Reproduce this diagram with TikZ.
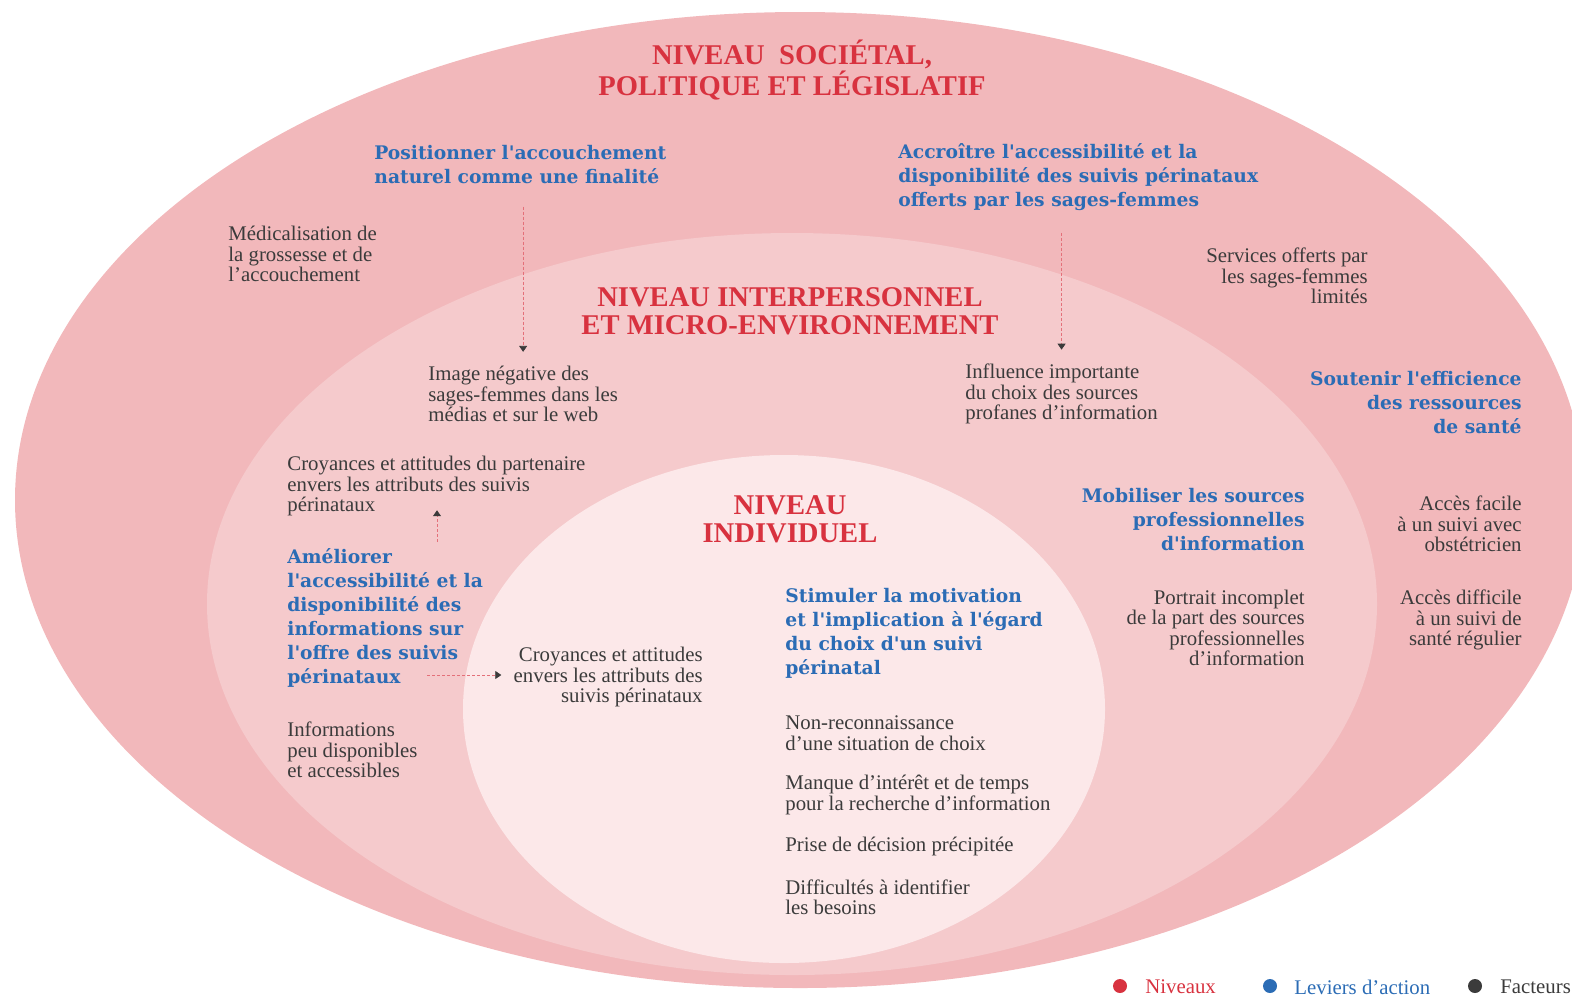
\documentclass[tikz,border=0pt]{standalone}
\usepackage{fontspec}
\setmainfont{Liberation Serif}
\newfontfamily\leverfont{DejaVu Serif}
\usepackage{xcolor}
\usepackage{tikz}
\usetikzlibrary{arrows.meta,calc}

\definecolor{socbg}{HTML}{F2B8BB}
\definecolor{interbg}{HTML}{F5CACC}
\definecolor{indbg}{HTML}{FCE8E9}
\definecolor{nivred}{HTML}{D8323F}
\definecolor{levblue}{HTML}{2B6CB5}
\definecolor{factgray}{HTML}{3B3B3B}

\tikzset{
    niveau/.style={text=nivred,font=\fontsize{14.3}{14}\selectfont\bfseries,align=center,inner sep=0},
    levier/.style={text=levblue,font=\leverfont\fontsize{9.35}{12}\selectfont\bfseries,inner sep=0},
    facteur/.style={text=factgray,font=\fontsize{10.4}{10.2}\selectfont,inner sep=0},
    lien/.style={draw=nivred!70,dash pattern=on 1.5pt off 1pt,line width=.4pt,
        -{Triangle[color=factgray,length=3pt,width=4pt]}}
}

\begin{document}
\begin{tikzpicture}[x=.5pt,y=-.5pt]
        \useasboundingbox (0,0) rectangle (1572,998);
        % les trois niveaux
        \fill[socbg] (800,500) ellipse [x radius=785,y radius=488];
        \fill[interbg] (792,604) ellipse [x radius=585,y radius=371];
        \fill[indbg] (784,709) ellipse [x radius=321,y radius=254];

        \node[niveau] (S) at (792,70) {NIVEAU\ \ SOCIÉTAL,\\POLITIQUE ET LÉGISLATIF};
        \node[niveau] (I) at (790,311) {NIVEAU INTERPERSONNEL\\ET MICRO-ENVIRONNEMENT};
        \node[niveau] (N) at (790,519) {NIVEAU\\INDIVIDUEL};

        % leviers d'action
        \node[levier,anchor=west,align=left] (P) at (374,165)
        {Positionner l'accouchement\\naturel comme une finalité};
        \node[levier,anchor=west,align=left] (A) at (898,177)
        {Accroître l'accessibilité et la\\disponibilité des suivis périnataux\\offerts par les sages-femmes};
        \node[levier,anchor=east,align=right] (E) at (1522,403)
        {Soutenir l'efficience\\des ressources\\de santé};
        \node[levier,anchor=east,align=right] (M) at (1305,520)
        {Mobiliser les sources\\professionnelles\\d'information};
        \node[levier,anchor=west,align=left] (Am) at (287,618)
        {Améliorer\\l'accessibilité et la\\disponibilité des\\informations sur\\l'offre des suivis\\périnataux};
        \node[levier,anchor=west,align=left] (St) at (785,633)
        {Stimuler la motivation\\et l'implication à l'égard\\du choix d'un suivi\\périnatal};

        % facteurs
        \node[facteur,anchor=west,align=left] (Med) at (228,254)
        {Médicalisation de\\la grossesse et de\\l'accouchement};
        \node[facteur,anchor=east,align=right] (Ser) at (1368,276)
        {Services offerts par\\les sages-femmes\\limités};
        \node[facteur,anchor=west,align=left] (Img) at (428,394)
        {Image négative des\\sages-femmes dans les\\médias et sur le web};
        \node[facteur,anchor=west,align=left] (Inf) at (965,394)
        {Influence importante\\du choix des sources\\profanes d'information};
        \node[facteur,anchor=west,align=left] (Cp) at (287,486)
        {Croyances et attitudes du partenaire\\envers les attributs des suivis\\périnataux};
        \node[facteur,anchor=east,align=right] (Af) at (1522,524)
        {Accès facile\\à un suivi avec\\obstétricien};
        \node[facteur,anchor=east,align=right] (Ad) at (1522,620)
        {Accès difficile\\à un suivi de\\santé régulier};
        \node[facteur,anchor=east,align=right] (Pi) at (1305,628)
        {Portrait incomplet\\de la part des sources\\professionnelles\\d'information};
        \node[facteur,anchor=east,align=right] (Ca) at (703,677)
        {Croyances et attitudes\\envers les attributs des\\suivis périnataux};
        \node[facteur,anchor=west,align=left] (Ip) at (287,750)
        {Informations\\peu disponibles\\et accessibles};
        \node[facteur,anchor=west,align=left] (Nr) at (785,733)
        {Non-reconnaissance\\d'une situation de choix};
        \node[facteur,anchor=west,align=left] (Mi) at (785,795)
        {Manque d'intérêt et de temps\\pour la recherche d'information};
        \node[facteur,anchor=west,align=left] (Pd) at (785,846)
        {Prise de décision précipitée};
        \node[facteur,anchor=west,align=left] (Di) at (785,897)
        {Difficultés à identifier\\les besoins};

        % liens
        \draw[lien] ([yshift=-11pt]P.south -| Img.north) -- ([yshift=7pt]Img.north);
        \draw[lien] ([yshift=-11pt]A.south -| Inf.north) -- ([yshift=7pt]Inf.north);
        \draw[lien] ([xshift=75pt,yshift=3pt]Am.north west) -- ([xshift=75pt,yshift=3pt]Cp.south west);
        \draw[lien] ($(Am.south west |- Ca.west)+(70pt,1pt)$) -- ([xshift=-6pt,yshift=1pt]Ca.west);

        % legende
        \fill[nivred] (1120,986) circle (7);
        \node[facteur,text=nivred,anchor=west] (Lniv) at (1145,987) {Niveaux};
        \fill[levblue] (1270,986) circle (7);
        \node[facteur,text=levblue,anchor=west] (Llev) at (1294,987) {Leviers d'action};
        \fill[factgray] (1475,986) circle (7);
        \node[facteur,anchor=west] (Lfac) at (1500,987) {Facteurs};
    \end{tikzpicture}
\end{document}
